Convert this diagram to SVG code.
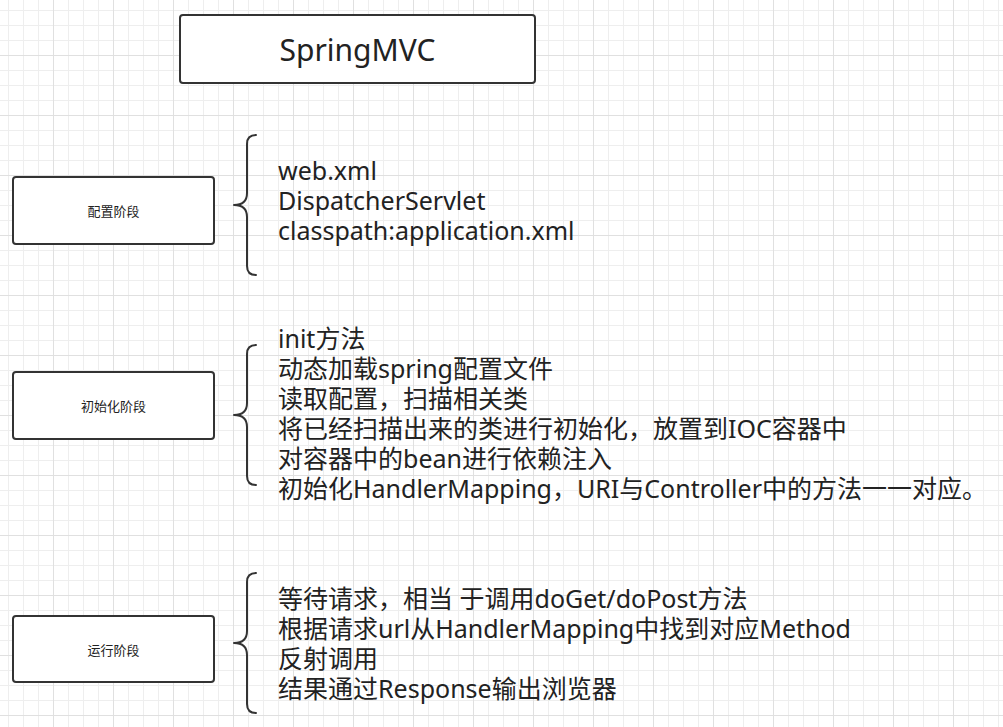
<svg xmlns="http://www.w3.org/2000/svg" width="1003" height="727" viewBox="0 0 1003 727">
<style>
.box{fill:#ffffff;stroke:#333333;stroke-width:2}
.brace{fill:none;stroke:#333333;stroke-width:2;stroke-linecap:round;stroke-linejoin:round}
.t{font-family:"Noto Sans","Open Sans","Noto Sans CJK SC",sans-serif;fill:#222222}
.big{font-size:25px}
.small{font-size:13px;text-anchor:middle}
.title{font-size:30px;text-anchor:middle}
</style>
<defs>
<pattern id="grid" x="8" y="10" width="60" height="60" patternUnits="userSpaceOnUse">
<rect x="0" y="0" width="1" height="60" fill="#eeeeee"/>
<rect x="15" y="0" width="1" height="60" fill="#eeeeee"/>
<rect x="30" y="0" width="1" height="60" fill="#eeeeee"/>
<rect x="0" y="0" width="60" height="1" fill="#eeeeee"/>
<rect x="0" y="15" width="60" height="1" fill="#eeeeee"/>
<rect x="0" y="30" width="60" height="1" fill="#eeeeee"/>
<rect x="45" y="0" width="1" height="60" fill="#e0e0e0"/>
<rect x="0" y="45" width="60" height="1" fill="#e0e0e0"/>
</pattern>
</defs>
<rect x="0" y="0" width="1003" height="727" fill="#ffffff"/>
<rect x="0" y="0" width="1003" height="727" fill="url(#grid)"/>

<g id="title">
<rect class="box" x="180" y="15" width="355" height="68" rx="3"/>
<text class="t title" x="357.5" y="61">SpringMVC</text>
</g>

<g id="config">
<rect class="box" x="13" y="177" width="201" height="67" rx="3"/>
<text class="t small" x="113.5" y="216">配置阶段</text>
</g>

<g id="init">
<rect class="box" x="13" y="372" width="201" height="67" rx="3"/>
<text class="t small" x="113.5" y="411">初始化阶段</text>
</g>

<g id="run">
<rect class="box" x="13" y="616" width="201" height="66" rx="3"/>
<text class="t small" x="113.5" y="655">运行阶段</text>
</g>

<g id="connectors">
<path class="brace" d="M256,135 Q247,135 247,144 L247,193 Q247,205 234,205 Q247,205 247,217 L247,266 Q247,275 256,275"/>
<path class="brace" d="M256,345 Q247,345 247,354 L247,403 Q247,415 234,415 Q247,415 247,427 L247,476 Q247,485 256,485"/>
<path class="brace" d="M256,573 Q247,573 247,582 L247,631 Q247,643 234,643 Q247,643 247,655 L247,704 Q247,713 256,713"/>
</g>

<g id="config-text">
<text class="t big" x="278" y="180"><tspan x="278" y="180">web.xml</tspan><tspan x="278" y="210">DispatcherServlet</tspan><tspan x="278" y="240">classpath:application.xml</tspan></text>
</g>

<g id="init-text">
<text class="t big" x="278" y="348"><tspan x="278" y="348">init方法</tspan><tspan x="278" y="378">动态加载spring配置文件</tspan><tspan x="278" y="408">读取配置，扫描相关类</tspan><tspan x="278" y="438">将已经扫描出来的类进行初始化，放置到IOC容器中</tspan><tspan x="278" y="468">对容器中的bean进行依赖注入</tspan><tspan x="278" y="498">初始化HandlerMapping，URI与Controller中的方法一一对应。</tspan></text>
</g>

<g id="run-text">
<text class="t big" x="278" y="608"><tspan x="278" y="608">等待请求，相当 于调用doGet/doPost方法</tspan><tspan x="278" y="638">根据请求url从HandlerMapping中找到对应Method</tspan><tspan x="278" y="668">反射调用</tspan><tspan x="278" y="698">结果通过Response输出浏览器</tspan></text>
</g>
</svg>
